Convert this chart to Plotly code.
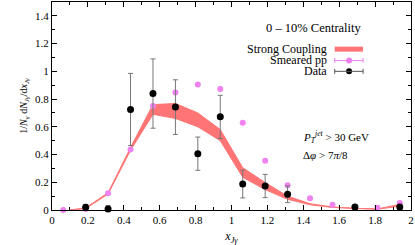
import plotly.graph_objects as go

# Bin centres
x_bins = [0.0625, 0.1875, 0.3125, 0.4375, 0.5625, 0.6875, 0.8125, 0.9375,
          1.0625, 1.1875, 1.3125, 1.4375, 1.5625, 1.6875, 1.8125, 1.9375]

# Smeared pp
pp_y = [0.0, 0.008, 0.12, 0.437, 0.75, 0.848, 0.905, 0.872,
        0.629, 0.355, 0.178, 0.084, 0.038, 0.024, 0.017, 0.05]

# Data
data_x = [0.1875, 0.3125, 0.4375, 0.5625, 0.6875, 0.8125, 0.9375,
          1.0625, 1.1875, 1.3125, 1.6875, 1.9375]
data_y = [0.02, 0.007, 0.725, 0.84, 0.742, 0.406, 0.672,
          0.187, 0.173, 0.113, 0.022, 0.022]
data_err = [0.02, 0.025, 0.26, 0.25, 0.197, 0.12, 0.155,
            0.1, 0.084, 0.06, 0.012, 0.012]

# Strong coupling band
band_x = [0.1, 0.1875, 0.3125, 0.4375, 0.5625, 0.6875, 0.8125, 0.9375,
          1.0625, 1.1875, 1.3125, 1.4375, 1.5625, 1.6875, 1.8125, 1.9375]
band_lo = [0.0, 0.01, 0.115, 0.43, 0.69, 0.66, 0.60, 0.50,
           0.236, 0.147, 0.077, 0.038, 0.018, 0.009, 0.005, 0.028]
band_hi = [0.0, 0.015, 0.125, 0.45, 0.76, 0.768, 0.70, 0.58,
           0.305, 0.198, 0.100, 0.045, 0.022, 0.012, 0.008, 0.04]

BAND = "#ff7474"
PINK = "#ee82ee"
FONT = "Liberation Serif"

fig = go.Figure()
fig.add_trace(go.Scatter(x=band_x, y=band_lo, mode="lines",
                         line=dict(color=BAND, width=1), showlegend=False))
fig.add_trace(go.Scatter(x=band_x, y=band_hi, mode="lines", fill="tonexty",
                         fillcolor=BAND, line=dict(color=BAND, width=1),
                         showlegend=False))
fig.add_trace(go.Scatter(x=x_bins, y=pp_y, mode="markers", cliponaxis=False,
                         marker=dict(color=PINK, size=6), showlegend=False))
fig.add_trace(go.Scatter(x=data_x, y=data_y, mode="markers", cliponaxis=False,
                         marker=dict(color="black", size=7),
                         error_y=dict(type="data", array=data_err, color="#777777",
                                      thickness=1, width=2.5),
                         showlegend=False))

# Legend drawn by hand (text left, sample right)
leg_x0, leg_x1, leg_xm = 1.575, 1.733, 1.655
fig.add_shape(type="rect", x0=leg_x0, x1=leg_x1, y0=1.142, y1=1.178,
              fillcolor=BAND, line=dict(width=0))
for yy, col, mc in [(1.078, PINK, PINK), (1.0, "#555555", "black")]:
    fig.add_shape(type="line", x0=leg_x0, x1=leg_x1, y0=yy, y1=yy,
                  line=dict(color=col, width=1))
    for xx in (leg_x0, leg_x1):
        fig.add_shape(type="line", x0=xx, x1=xx, y0=yy - 0.018, y1=yy + 0.018,
                      line=dict(color=col, width=1))
    fig.add_trace(go.Scatter(x=[leg_xm], y=[yy], mode="markers",
                             marker=dict(color=mc, size=6), showlegend=False))

ann = [
    ("0 \u2013 10% Centrality", 1.733, 1.311, "right", 12.5),
    ("Strong Coupling", 1.536, 1.162, "right", 12),
    ("Smeared pp", 1.536, 1.08, "right", 12),
    ("Data", 1.536, 1.0, "right", 12),
    ("<i>P</i><sub><i>T</i></sub><sup><i>jet</i></sup> > 30 GeV", 1.39, 0.53, "left", 11),
    ("\u0394<i>\u03c6</i> > 7<i>\u03c0</i>/8", 1.39, 0.396, "left", 11),
]
for t, xx, yy, xa, fs in ann:
    fig.add_annotation(x=xx, y=yy, text=t, showarrow=False, xanchor=xa,
                       yanchor="middle", font=dict(family=FONT, size=fs, color="black"),
                       borderpad=0)

axis_common = dict(showline=True, linecolor="black", linewidth=1, mirror="allticks",
                   ticks="inside", ticklen=5, tickcolor="black", showgrid=False,
                   zeroline=False, tickfont=dict(family=FONT, size=11, color="black"),
                   dtick=0.2, tick0=0,
                   minor=dict(ticks="inside", ticklen=3, dtick=0.1, tickcolor="black",
                              showgrid=False))

fig.update_xaxes(range=[0, 2], **axis_common,
                 title=dict(text="<i>x</i><sub><i>J\u03b3</i></sub>",
                            font=dict(family=FONT, size=12, color="black"), standoff=6))
fig.update_yaxes(range=[0, 1.5], **axis_common,
                 title=dict(text="1/<i>N</i><sub>\u03b3</sub> d<i>N</i><sub><i>J\u03b3</i></sub>/d<i>x</i><sub><i>J\u03b3</i></sub>",
                            font=dict(family=FONT, size=10, color="black"), standoff=5))

fig.update_layout(width=415, height=245, margin=dict(l=52, r=4, t=2, b=35),
                  plot_bgcolor="white", paper_bgcolor="white", showlegend=False)

fig.write_html("out.html", config={"displayModeBar": False},
               post_script="document.body.style.margin='0';document.body.style.overflow='hidden';")
